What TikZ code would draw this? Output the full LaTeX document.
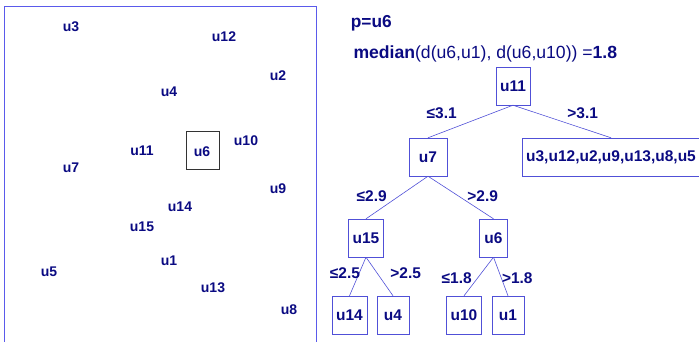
\documentclass[tikz,border=0pt]{standalone}
\usepackage{fontspec}
\setmainfont{Liberation Sans}
\usetikzlibrary{positioning}

\definecolor{ink}{RGB}{10,10,130}
\definecolor{edgeblue}{RGB}{80,80,215}
\definecolor{frameblue}{RGB}{90,90,235}

\tikzset{
  pt/.style={text=ink,font=\fontsize{14}{16}\selectfont\bfseries,inner sep=0pt},
  tnode/.style={draw=edgeblue,text=ink,font=\fontsize{15.5}{18}\selectfont\bfseries,
    minimum width=32pt,minimum height=38pt,inner xsep=4pt,inner ysep=0pt},
  elabel/.style={text=ink,font=\fontsize{15.5}{18}\selectfont\bfseries,inner sep=0pt},
  branch/.style={draw=edgeblue,line width=0.6pt}
}

\begin{document}
\begin{tikzpicture}[x=1pt,y=-1pt]
  \useasboundingbox (0,0) rectangle (699,342);

  % the space of points
  \draw[frameblue,line width=0.9pt] (4.3,342) -- (4.3,6) -- (316.7,6) -- (316.7,342);
  \draw[black!80,line width=0.6pt] (186,131) rectangle (219,169);
  \node[pt] (p3) at (71,27) {u3};
  \node[pt] (p12) at (224,37) {u12};
  \node[pt] (p2) at (278,76) {u2};
  \node[pt] (p4) at (169,92) {u4};
  \node[pt] (p10) at (246,141) {u10};
  \node[pt] (p11) at (142,151) {u11};
  \node[pt] (p6) at (202,152) {u6};
  \node[pt] (p7) at (71,168) {u7};
  \node[pt] (p9) at (278,189) {u9};
  \node[pt] (p14) at (180,207) {u14};
  \node[pt] (p15) at (142,227) {u15};
  \node[pt] (p1) at (169,261) {u1};
  \node[pt] (p5) at (49,272) {u5};
  \node[pt] (p13) at (213,288) {u13};
  \node[pt] (p8) at (289,310) {u8};

  % the tree
  \node[anchor=base west,text=ink,inner sep=0pt,font=\fontsize{17.3}{20}\selectfont\bfseries]
    (pivot) at (350.7,27.7) {p=u6};
  \node[anchor=base west,text=ink,inner sep=0pt,font=\fontsize{17.6}{20}\selectfont]
    (median) at (353.3,58.3) {\textbf{median}(d(u6,u1), d(u6,u10)) =\textbf{1.8}};

  \node[tnode] (t11) at (513,86) {u11};
  \node[tnode,minimum width=38pt] (t7) at (428,157) {u7};
  \node[tnode,minimum width=174pt] (trest) at (611,157) {u3,u12,u2,u9,u13,u8,u5};
  \node[tnode] (t15) at (366,238) {u15};
  \node[tnode,minimum width=28pt] (t6) at (493.5,238) {u6};
  \node[tnode] (t14) at (349.5,315) {u14};
  \node[tnode] (t4) at (393,315) {u4};
  \node[tnode] (t10) at (464,315) {u10};
  \node[tnode] (t1) at (508,315) {u1};

  \draw[branch] (t11.south) -- (t7.north);
  \draw[branch] (t11.south) -- (trest.north);
  \draw[branch] (t7.south) -- (t15.north);
  \draw[branch] (t7.south) -- (t6.north);
  \draw[branch] (t15.south) -- (t14.north);
  \draw[branch] (t15.south) -- (t4.north);
  \draw[branch] (t6.south) -- (t10.north);
  \draw[branch] (t6.south) -- (t1.north);

  \node[elabel] (l31) at (441.7,113.3) {≤3.1};
  \node[elabel] (g31) at (582.7,113.3) {>3.1};
  \node[elabel] (l29) at (371.7,196) {≤2.9};
  \node[elabel] (g29) at (482.7,196) {>2.9};
  \node[elabel] (l25) at (345,273.3) {≤2.5};
  \node[elabel] (g25) at (405.7,273.3) {>2.5};
  \node[elabel] (l18) at (456.7,277.7) {≤1.8};
  \node[elabel] (g18) at (517.3,277.7) {>1.8};
\end{tikzpicture}
\end{document}
